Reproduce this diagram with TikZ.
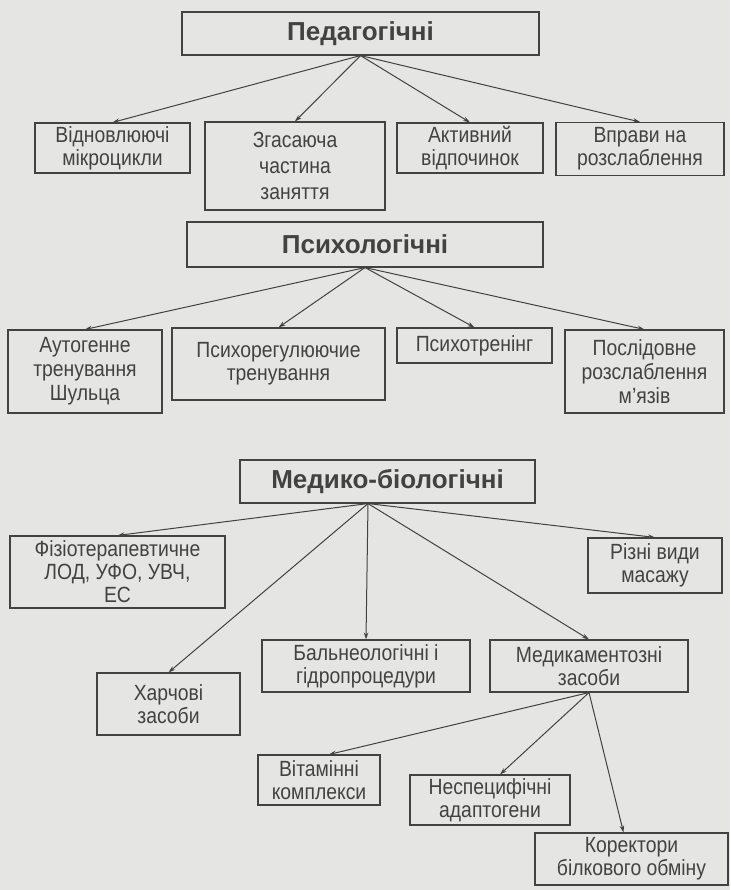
\documentclass[tikz,border=0pt]{standalone}
\usepackage{fontspec}
\setmainfont{Liberation Sans}
\newfontfamily\narrowsans[FakeStretch=0.88]{Liberation Sans}
\usetikzlibrary{calc,arrows.meta}
\definecolor{bg}{RGB}{229,229,227}
\definecolor{ink}{RGB}{66,66,66}
\begin{document}
\begin{tikzpicture}[x=1pt,y=-1pt,
  box/.style={draw=ink, line width=1.1pt, inner sep=0pt, text=ink, align=center,
    font=\narrowsans\fontsize{22}{23}\selectfont},
  head/.style={box, font=\fontsize{26}{28}\selectfont\bfseries},
  arr/.style={draw=ink, line width=1pt, -{Stealth[length=7pt,width=4.5pt]}}]
\useasboundingbox (0,0) rectangle (730,890);
\fill[bg] (0,0) rectangle (730,890);
% level 1
\node[head, minimum width=357pt, minimum height=43pt] (ped) at (360.5,33.5) {Педагогічні};
\node[box, minimum width=155pt, minimum height=50pt] (vid) at (112.5,148) {Відновлюючі\\мікроцикли};
\node[box, minimum width=180pt, minimum height=88pt, font=\narrowsans\fontsize{22}{26}\selectfont] (zga) at (295,166) {Згасаюча\\частина\\заняття};
\node[box, minimum width=146pt, minimum height=50pt] (akt) at (470,148) {Активний\\відпочинок};
\node[box, minimum width=168pt, minimum height=53pt] (vpr) at (640,149) {Вправи на\\розслаблення};
\foreach \t in {vid,zga,akt,vpr} \draw[arr] (ped.south) -- (\t.north);
% level 2
\node[head, minimum width=356pt, minimum height=45pt] (psy) at (365,244.5) {Психологічні};
\node[box, minimum width=154pt, minimum height=83pt, font=\narrowsans\fontsize{22}{24}\selectfont] (aut) at (85,371.5) {Аутогенне\\тренування\\Шульца};
\node[box, minimum width=213pt, minimum height=72pt] (pcr) at (278.5,364) {Психорегулюючие\\тренування};
\node[box, minimum width=155pt, minimum height=35pt] (ptr) at (474.5,345.5) {Психотренінг};
\node[box, minimum width=159pt, minimum height=83pt, font=\narrowsans\fontsize{22}{24}\selectfont] (pos) at (644.5,371.5) {Послідовне\\розслаблення\\м’язів};
\foreach \t in {aut,pcr,ptr,pos} \draw[arr] (psy.south) -- (\t.north);
% level 3
\node[head, minimum width=295pt, minimum height=43pt] (med) at (387.5,481.5) {Медико-біологічні};
\coordinate (medS) at ($(med.south)+(-19.5,0)$);
\node[box, minimum width=215pt, minimum height=72pt] (fiz) at (117.5,572) {Фізіотерапевтичне\\ЛОД, УФО, УВЧ,\\ЕС};
\node[box, minimum width=134pt, minimum height=55pt] (riz) at (655,565.5) {Різні види\\масажу};
\node[box, minimum width=208pt, minimum height=52pt] (bal) at (366,666) {Бальнеологічні і\\гідропроцедури};
\node[box, minimum width=198pt, minimum height=52pt] (mdk) at (589,666) {Медикаментозні\\засоби};
\node[box, minimum width=143pt, minimum height=62pt] (har) at (168.5,704) {Харчові\\засоби};
\foreach \t in {fiz,har,bal,mdk,riz} \draw[arr] (medS) -- (\t.north);
% level 4
\node[box, minimum width=122pt, minimum height=50pt] (vit) at (319,780) {Вітамінні\\комплекси};
\node[box, minimum width=160pt, minimum height=50pt] (nes) at (490,800) {Неспецифічні\\адаптогени};
\node[box, minimum width=193pt, minimum height=52pt] (kor) at (631.5,859) {Коректори\\білкового обміну};
\draw[arr] (mdk.south) -- ($(vit.north)+(10,0)$);
\draw[arr] (mdk.south) -- ($(nes.north)+(10,0)$);
\draw[arr] (mdk.south) -- ($(kor.north)+(-8,0)$);
\end{tikzpicture}
\end{document}
